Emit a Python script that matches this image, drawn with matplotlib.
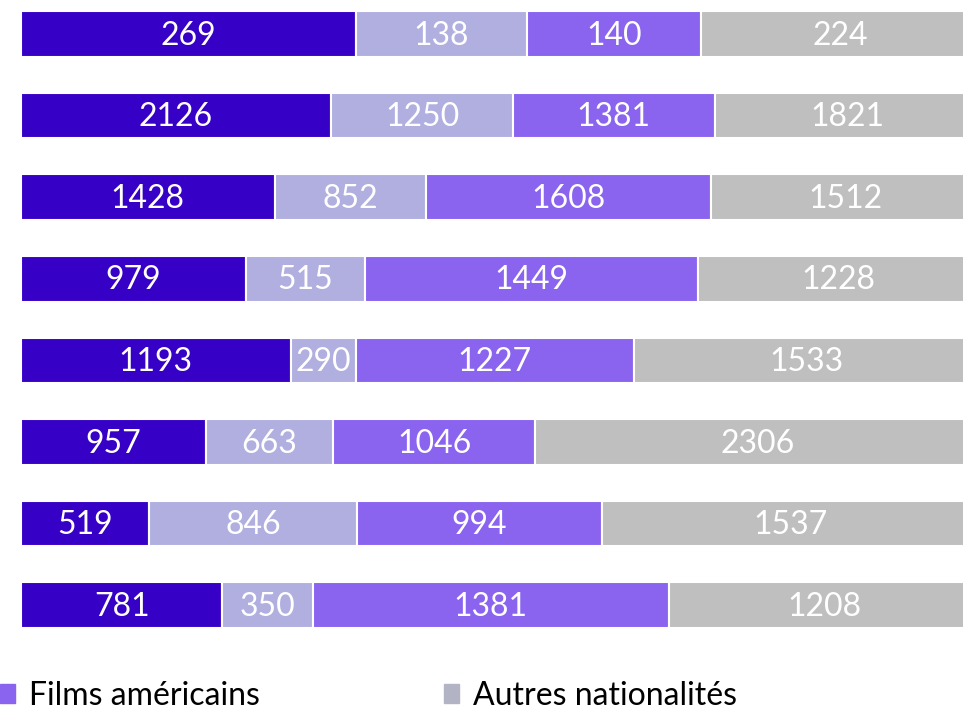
import matplotlib
matplotlib.use("Agg")
from matplotlib import pyplot as plt
from matplotlib.patches import Patch

# one row per bar, top to bottom
films_francais = [269, 2126, 1428, 979, 1193, 957, 519, 781]
films_europeens = [138, 1250, 852, 515, 290, 663, 846, 350]
films_americains = [140, 1381, 1608, 1449, 1227, 1046, 994, 1381]
autres = [224, 1821, 1512, 1228, 1533, 2306, 1537, 1208]

series = [films_francais, films_europeens, films_americains, autres]
colors = ["#3700c6", "#b0afe0", "#8a63ef", "#bfbfbf"]

legend_labels = ["Films américains", "Autres nationalités"]
legend_colors = ["#8a63ef", "#b3b3c6"]

plt.rcParams["font.family"] = ["Lato", "DejaVu Sans"]

fig = plt.figure(figsize=(9.63, 7.10), dpi=100)
ax = fig.add_axes([21 / 963, 0.0901, 959 / 963, 0.9195])

n = len(films_francais)
totals = [sum(s[i] for s in series) for i in range(n)]
ys = list(range(n))

left = [0.0] * n
for vals, col in zip(series, colors):
    widths = [v / t for v, t in zip(vals, totals)]
    ax.barh(ys, widths, left=left, height=0.56, color=col,
            edgecolor="white", linewidth=1.5)
    for i in range(n):
        ax.text(left[i] + widths[i] / 2, ys[i] + 0.02, str(vals[i]),
                ha="center", va="center", color="white", fontsize=23)
    left = [l + w for l, w in zip(left, widths)]

ax.set_xlim(0, 1)
ax.set_ylim(n - 0.5, -0.5)
ax.axis("off")

handles = [Patch(color=c) for c in legend_colors]
fig.legend(handles, legend_labels, loc="upper left",
           bbox_to_anchor=(-0.017, 0.064), ncol=2, frameon=False,
           fontsize=23, handlelength=0.47, handleheight=0.52,
           handletextpad=0.45, columnspacing=5.75, borderpad=0)

fig.savefig("out.png", dpi=100)
